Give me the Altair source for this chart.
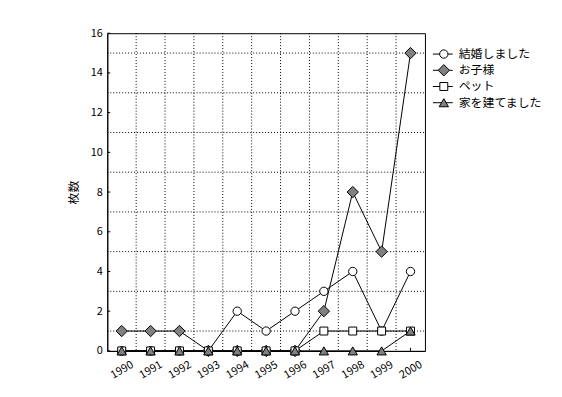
import altair as alt
import pandas as pd

years = [1990, 1991, 1992, 1993, 1994, 1995, 1996, 1997, 1998, 1999, 2000]
series = ["結婚しました", "お子様", "ペット", "家を建てました"]
married = [0, 0, 0, 0, 2, 1, 2, 3, 4, 1, 4]
children = [1, 1, 1, 0, 0, 0, 0, 2, 8, 5, 15]
pets = [0, 0, 0, 0, 0, 0, 0, 1, 1, 1, 1]
house = [0, 0, 0, 0, 0, 0, 0, 0, 0, 0, 1]
y_ticks = [0, 2, 4, 6, 8, 10, 12, 14, 16]

shapes = ["circle", "diamond", "square", "triangle-up"]
fills = ["#ffffff", "#808080", "#ffffff", "#808080"]
sizes = [70, 130, 64, 88]

FONT = "Noto Sans CJK JP"

rows = []
for name, vals in zip(series, [married, children, pets, house]):
    for yr, v in zip(years, vals):
        rows.append({"year": yr, "value": v, "series": name})
df = pd.DataFrame(rows)

x_grid = pd.DataFrame({"g": [y + 0.5 for y in years[:-1]]})
y_grid = pd.DataFrame({"g": [v + 1 for v in y_ticks[:-1]]})
x_tk = pd.DataFrame({"t": years})
y_tk = pd.DataFrame({"t": y_ticks})
leg = pd.DataFrame({"series": series})

xscale = alt.Scale(domain=[1989.5, 2000.5], nice=False, zero=False)
yscale = alt.Scale(domain=[0, 16], nice=False)

shape_enc = alt.Shape("series:N", scale=alt.Scale(domain=series, range=shapes), legend=None)
fill_enc = alt.Fill("series:N", scale=alt.Scale(domain=series, range=fills), legend=None)
size_enc = alt.Size("series:N", scale=alt.Scale(type="ordinal", domain=series, range=sizes),
                    legend=None)

xaxis = alt.Axis(values=years, format="d", labelAngle=-30, labelAlign="center",
                 labelBaseline="middle", labelPadding=19, ticks=False, grid=False,
                 title=None, labelFont=FONT, labelFontSize=11, labelColor="#000",
                 domainColor="#000")
yaxis = alt.Axis(values=y_ticks, ticks=False, grid=False, title="枚数",
                 labelFont=FONT, labelFontSize=11, labelColor="#000", labelPadding=5,
                 titleFont=FONT, titleFontSize=12, titleFontWeight="normal",
                 titleColor="#000", titlePadding=10, domainColor="#000")

base_x = alt.X("year:Q", scale=xscale, axis=xaxis)
base_y = alt.Y("value:Q", scale=yscale, axis=yaxis)

vgrid = alt.Chart(x_grid).mark_rule(color="#000", strokeDash=[1, 2], strokeWidth=1).encode(
    x=alt.X("g:Q", scale=xscale, axis=xaxis),
    y=alt.value(0), y2=alt.value(320))
hgrid = alt.Chart(y_grid).mark_rule(color="#000", strokeDash=[1, 2], strokeWidth=1).encode(
    y=alt.Y("g:Q", scale=yscale, axis=yaxis),
    x=alt.value(0), x2=alt.value(320))
xticks = alt.Chart(x_tk).mark_rule(color="#000").encode(
    x=alt.X("t:Q", scale=xscale, axis=xaxis), y=alt.value(320), y2=alt.value(317))
yticks = alt.Chart(y_tk).mark_rule(color="#000").encode(
    y=alt.Y("t:Q", scale=yscale, axis=yaxis), x=alt.value(0), x2=alt.value(3))

lines = alt.Chart(df).mark_line(color="#000", strokeWidth=1).encode(
    x=base_x, y=base_y, detail="series:N")
points = alt.Chart(df).mark_point(filled=True, stroke="#000", strokeWidth=1, opacity=1).encode(
    x=base_x, y=base_y, shape=shape_enc, fill=fill_enc, size=size_enc)

main = alt.layer(vgrid, hgrid, xticks, yticks, lines, points)

ly = alt.Y("series:O", sort=series,
           scale=alt.Scale(type="point", domain=series, range=[21, 70], padding=0),
           axis=None)
leg_rule = alt.Chart(leg).mark_rule(color="#000", strokeWidth=1).encode(
    y=ly, x=alt.value(328), x2=alt.value(348))
leg_pt = alt.Chart(leg).mark_point(filled=True, stroke="#000", strokeWidth=1, opacity=1).encode(
    y=ly, x=alt.value(339), shape=shape_enc, fill=fill_enc, size=size_enc)
leg_txt = alt.Chart(leg).mark_text(align="left", baseline="middle", font=FONT,
                                   fontSize=12, color="#000").encode(
    y=ly, x=alt.value(354), text="series:N")
legend = alt.layer(leg_rule, leg_pt, leg_txt)

chart = alt.layer(main, legend).resolve_scale(y="independent").properties(
    width=320, height=320,
    autosize=alt.AutoSizeParams(type="none"),
    padding={"left": 100, "top": 24, "right": 130, "bottom": 40},
    background="#ffffff",
).configure_view(stroke="#000", strokeWidth=1)

chart.save("out.html", embed_options={"renderer": "svg", "actions": False})
